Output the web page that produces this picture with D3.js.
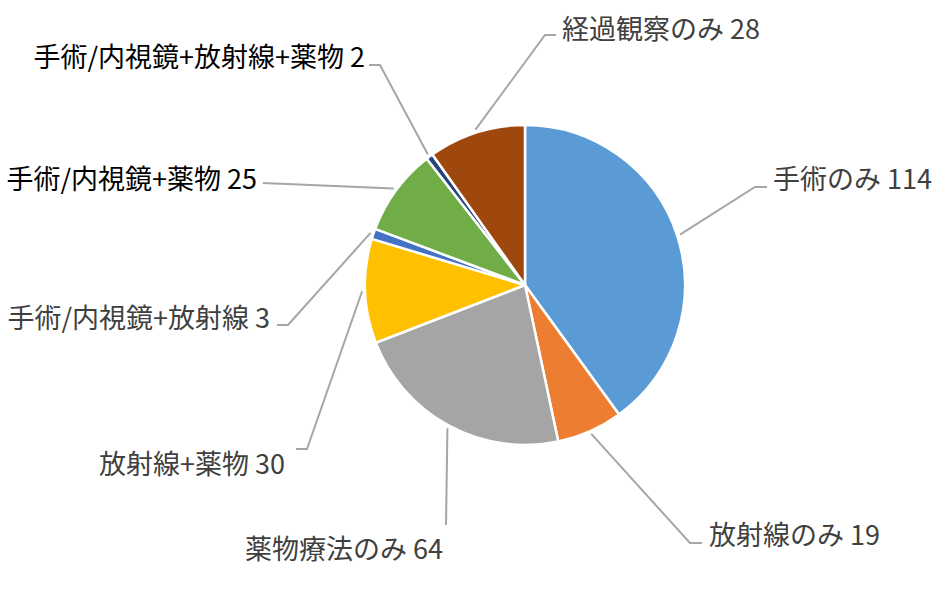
<!DOCTYPE html>
<html>
<head>
<meta charset="utf-8">
<script src="https://cdn.jsdelivr.net/npm/d3@7"></script>
<style>
  html, body { margin: 0; padding: 0; background: #fff; }
  svg text { font-family: "Noto Sans CJK JP", "Noto Sans", sans-serif; }
</style>
</head>
<body>
<svg id="chart"></svg>
<script>
// data
const categories = [
  "手術のみ",
  "放射線のみ",
  "薬物療法のみ",
  "放射線+薬物",
  "手術/内視鏡+放射線",
  "手術/内視鏡+薬物",
  "手術/内視鏡+放射線+薬物",
  "経過観察のみ"
];
const values = [114, 19, 64, 30, 3, 25, 2, 28];

// styles
const colors = ["#5b9bd5", "#ed7d31", "#a5a5a5", "#ffc000", "#4472c4", "#70ad47", "#264478", "#9e480e"];
const labelColors = ["#404040", "#404040", "#404040", "#404040", "#404040", "#000000", "#000000", "#404040"];

// label placement (elbow of leader line, hook length, text position)
const labelLayout = [
  { elbow: [755, 187], hook: 12, tx: 773, ty: 177, anchor: "start" },
  { elbow: [690, 543], hook: 12, tx: 709, ty: 533, anchor: "start" },
  { elbow: [446, 525], hook: 0, tx: 443, ty: 547, anchor: "end" },
  { elbow: [307, 449], hook: -11, tx: 285, ty: 462, anchor: "end" },
  { elbow: [288, 325], hook: -11, tx: 270, ty: 316, anchor: "end" },
  { elbow: [263, 183], hook: 0, tx: 257, ty: 177, anchor: "end" },
  { elbow: [380, 65], hook: -11, tx: 365, ty: 55, anchor: "end" },
  { elbow: [545, 35], hook: 11, tx: 562, ty: 27, anchor: "start" }
];

const w = 937;
const h = 593;
const cx = 525;
const cy = 285;
const r = 160;

const svg = d3.select("#chart").attr("width", w).attr("height", h);

const pie = d3.pie().sort(null).value((d) => d.value);
const arcs = pie(categories.map((c, i) => ({ name: c, value: values[i], i })));

const arc = d3.arc().innerRadius(0).outerRadius(r);
const edgeArc = d3.arc().innerRadius(r + 3).outerRadius(r + 3);

const g = svg.append("g").attr("transform", `translate(${cx},${cy})`);

// slices
g.selectAll("path.slice")
  .data(arcs)
  .enter()
  .append("path")
  .attr("class", "slice")
  .attr("d", arc)
  .attr("fill", (d) => colors[d.data.i])
  .attr("stroke", "#fff")
  .attr("stroke-width", 2.5)
  .attr("stroke-linejoin", "round");

// leader lines
svg.selectAll("polyline.leader")
  .data(arcs)
  .enter()
  .append("polyline")
  .attr("class", "leader")
  .attr("points", (d) => {
    const L = labelLayout[d.data.i];
    const c = edgeArc.centroid(d);
    const pts = [[cx + c[0], cy + c[1]], L.elbow];
    if (L.hook) pts.push([L.elbow[0] + L.hook, L.elbow[1]]);
    return pts.map((p) => p.join(",")).join(" ");
  })
  .attr("fill", "none")
  .attr("stroke", "#a6a6a6")
  .attr("stroke-width", 2);

// labels
svg.selectAll("text.label")
  .data(arcs)
  .enter()
  .append("text")
  .attr("class", "label")
  .attr("x", (d) => labelLayout[d.data.i].tx)
  .attr("y", (d) => labelLayout[d.data.i].ty)
  .attr("text-anchor", (d) => labelLayout[d.data.i].anchor)
  .attr("dominant-baseline", "central")
  .attr("fill", (d) => labelColors[d.data.i])
  .style("font-size", "27px")
  .text((d) => `${d.data.name} ${d.data.value}`);
</script>
</body>
</html>
